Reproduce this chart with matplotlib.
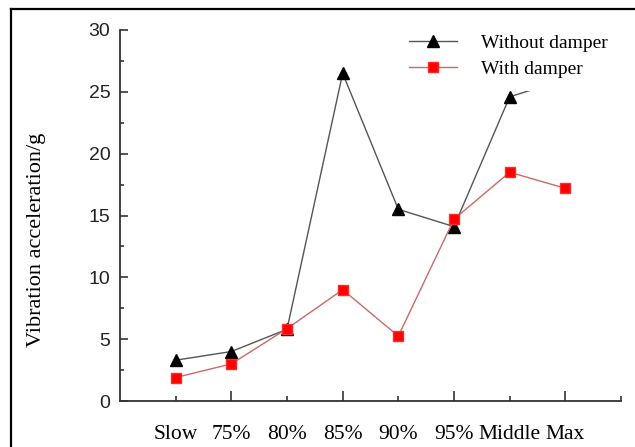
import matplotlib
matplotlib.use("Agg")
import matplotlib.pyplot as plt
from matplotlib.lines import Line2D

categories = ["Slow", "75%", "80%", "85%", "90%", "95%", "Middle", "Max"]
without_damper = [3.3, 4.0, 5.8, 26.5, 15.5, 14.1, 24.6, 26.0]
with_damper = [1.9, 3.0, 5.85, 9.0, 5.25, 14.7, 18.5, 17.2]
y_ticks = [0, 5, 10, 15, 20, 25, 30]

W, H = 635, 447
fig = plt.figure(figsize=(W / 100, H / 100), dpi=100)
ax = fig.add_axes([120 / W, 1 - 401 / H, (621 - 120) / W, (401 - 30) / H])

x = list(range(len(categories)))
ax.plot(x, without_damper, color="#555555", lw=1.0, marker="^", ms=9,
        mfc="black", mec="black", label="Without damper", zorder=3)
ax.plot(x, with_damper, color="#c86a6a", lw=1.0, marker="s", ms=6.5,
        mfc="#ff0000", mec="#ff2a2a", label="With damper", zorder=4)

ax.set_xlim(-1, 8)
ax.set_ylim(0, 30)

for s in ["top", "right"]:
    ax.spines[s].set_visible(False)
for s in ["left", "bottom"]:
    ax.spines[s].set_color("#333333")
    ax.spines[s].set_linewidth(1.3)

# y ticks
ax.set_yticks(y_ticks)
ax.set_yticklabels([str(v) for v in y_ticks], family="Liberation Sans", fontsize=14)
ax.set_yticks([2.5, 7.5, 12.5, 17.5, 22.5, 27.5], minor=True)
ax.tick_params(axis="y", which="major", direction="in", length=6, width=1.2,
               pad=7, colors="#333333", labelcolor="#222222")
ax.tick_params(axis="y", which="minor", direction="in", length=3, width=1.2,
               colors="#333333")

# x ticks: major at odd indices, minor at even, labels split between them
major_idx = [i for i in x if i % 2 == 1]
minor_idx = [i for i in x if i % 2 == 0] + [8]
ax.set_xticks(major_idx)
ax.set_xticklabels([categories[i] for i in major_idx], family="Liberation Serif", fontsize=15.5)
ax.set_xticks(minor_idx, minor=True)
ax.set_xticklabels([categories[i] for i in minor_idx[:-1]] + [""], minor=True,
                   family="Liberation Serif", fontsize=15.5)
ax.tick_params(axis="x", which="major", direction="in", length=7, width=1.2,
               pad=17, colors="#333333", labelcolor="black")
ax.tick_params(axis="x", which="minor", direction="in", length=3.5, width=1.2,
               pad=17, colors="#333333", labelcolor="black")

fig.text(37 / W, 1 - 240 / H, "Vibration acceleration/g", rotation=90,
         ha="center", va="center", family="Liberation Serif", fontsize=16)

leg = ax.legend(loc="upper left", bbox_to_anchor=(0.551, 1.0226), borderaxespad=0,
                frameon=True, facecolor="white", edgecolor="none", framealpha=1,
                fancybox=False, prop={"family": "Liberation Serif", "size": 14},
                handlelength=2.5, handletextpad=1.2, labelspacing=0.45,
                borderpad=0.65)
leg.set_zorder(10)

# figure border (top and left)
fig.add_artist(Line2D([11 / W, 1.0], [1 - 9 / H, 1 - 9 / H], color="black",
                      lw=1.6, transform=fig.transFigure))
fig.add_artist(Line2D([11 / W, 11 / W], [1 - 9 / H, 0.0], color="black",
                      lw=1.6, transform=fig.transFigure))

fig.savefig("out.png", dpi=100)
